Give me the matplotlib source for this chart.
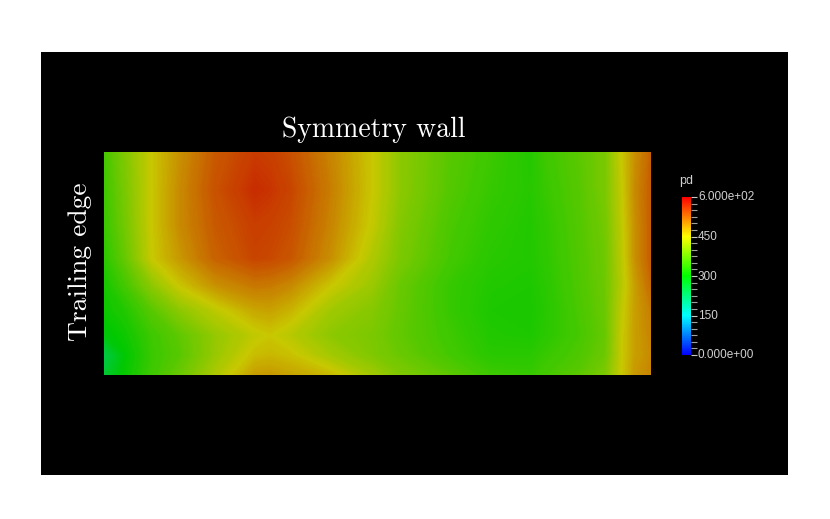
import numpy as np
import matplotlib
matplotlib.use("Agg")
import matplotlib.pyplot as plt
from matplotlib.colors import LinearSegmentedColormap, Normalize
from matplotlib.cm import ScalarMappable
from matplotlib.transforms import ScaledTranslation

W, H = 830, 519

# stations across the span and down the wall (image pixels)
x_st = [104, 125, 152, 180, 215, 255, 270, 290, 330, 372, 400, 450, 490, 530, 545, 580, 605, 622, 635, 651]
y_st = [152, 190, 225, 258, 285, 310, 335, 355, 375]

row_0 = [350, 395, 450, 490, 532, 555, 552, 540, 500, 450, 405, 365, 345, 325, 345, 368, 390, 450, 490, 525]
row_1 = [345, 390, 450, 495, 538, 565, 560, 548, 505, 450, 405, 362, 340, 328, 340, 365, 390, 445, 495, 530]
row_2 = [340, 385, 450, 495, 532, 553, 550, 542, 500, 445, 398, 355, 335, 325, 335, 362, 385, 442, 490, 530]
row_3 = [330, 375, 448, 485, 525, 548, 545, 535, 492, 430, 392, 350, 330, 325, 333, 360, 382, 438, 490, 530]
row_4 = [315, 350, 405, 452, 490, 510, 508, 497, 452, 415, 378, 340, 325, 322, 330, 358, 380, 435, 480, 520]
row_5 = [308, 325, 365, 405, 440, 475, 478, 465, 420, 400, 375, 340, 322, 320, 328, 355, 378, 442, 480, 505]
row_6 = [290, 310, 345, 370, 410, 442, 450, 436, 405, 392, 372, 345, 325, 322, 330, 352, 375, 447, 480, 500]
row_7 = [245, 298, 342, 365, 412, 458, 462, 455, 422, 395, 378, 350, 330, 330, 340, 358, 380, 447, 480, 495]
row_8 = [262, 305, 345, 378, 428, 482, 485, 478, 460, 420, 395, 368, 345, 340, 350, 368, 392, 450, 485, 500]
pd_rows = [row_0, row_1, row_2, row_3, row_4, row_5, row_6, row_7, row_8]

cbar_ticks = [0, 150, 300, 450, 600]
cbar_labels = ["0.000e+00", "150", "300", "450", "6.000e+02"]

bar_colors = ["#0000ff", "#00ffff", "#00ff00", "#ffff00", "#ff0000"]
surf_colors = ["#0000c8", "#00c8c8", "#00c800", "#c8c800", "#c80000"]
bar_cmap = LinearSegmentedColormap.from_list("bar", bar_colors)
surf_cmap = LinearSegmentedColormap.from_list("surf", surf_colors)


def px_axes(fig, x0, y0, x1, y1):
    return fig.add_axes([x0 / W, 1 - y1 / H, (x1 - x0) / W, (y1 - y0) / H])


fig = plt.figure(figsize=(W / 100, H / 100), dpi=100, facecolor="white")

# black render window
bg = px_axes(fig, 41, 52, 788, 475)
bg.set_facecolor("black")
bg.set_xticks([])
bg.set_yticks([])
for s in bg.spines.values():
    s.set_visible(False)

# pressure surface
ax = px_axes(fig, 104, 152, 651, 375)
ax.contourf(x_st, y_st, np.array(pd_rows), levels=np.linspace(0, 600, 301),
            cmap=surf_cmap, norm=Normalize(0, 600), antialiased=False)
ax.set_xlim(104, 651)
ax.set_ylim(375, 152)
ax.axis("off")

fig.text(374 / W, 1 - 130 / H, "Symmetry wall", family="cmr10", fontsize=20,
         color="white", ha="center", va="center")
fig.text(80 / W, 1 - 262 / H, "Trailing edge", family="cmr10", fontsize=19.8,
         color="white", ha="center", va="center", rotation=90)

# colour bar
cax = px_axes(fig, 682, 197, 691, 355)
cb = fig.colorbar(ScalarMappable(Normalize(0, 600), bar_cmap), cax=cax)
cb.outline.set_visible(False)
cb.set_ticks(cbar_ticks)
cb.set_ticklabels(cbar_labels)
cb.ax.set_yticks(np.arange(0, 601, 25), minor=True)
cb.ax.tick_params(which="major", length=4, width=0.8, color="#c8c8c8", labelcolor="#d0d0d0",
                  labelsize=8.5, pad=1)
cb.ax.tick_params(which="minor", length=4, width=0.8, color="#a0a0a0")
up = ScaledTranslation(0, 1 / 100, fig.dpi_scale_trans)
for lab in cb.ax.get_yticklabels():
    lab.set_family("Liberation Sans")
    lab.set_transform(lab.get_transform() + up)
fig.text(686 / W, 1 - 181 / H, "pd", family="Liberation Sans", fontsize=9, color="#d0d0d0",
         ha="center", va="center")

fig.savefig("out.png", dpi=100)
